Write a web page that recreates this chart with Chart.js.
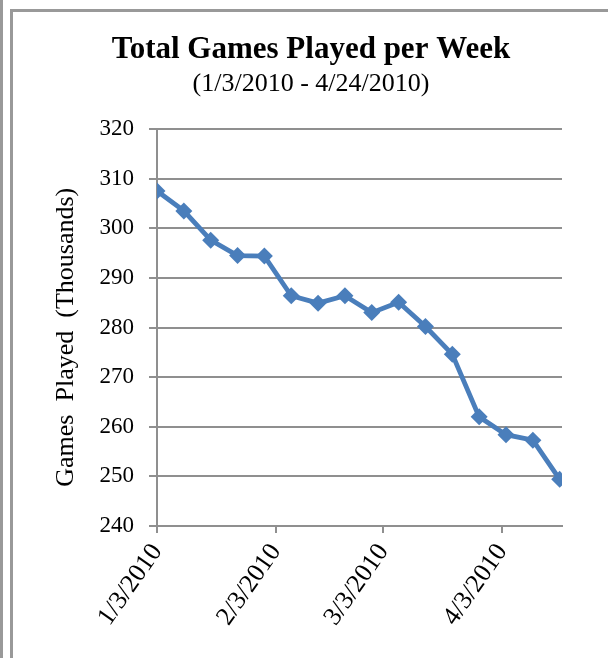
<!DOCTYPE html>
<html lang="en">
<head>
    <meta charset="UTF-8">
    <title>Total Games Played per Week</title>
    <script src="https://cdn.jsdelivr.net/npm/chart.js@4.4.1/dist/chart.umd.min.js"></script>
    <style>
        body{
            margin: 0;
            background: #fff;
            overflow: hidden;
        }
        #edge{
            position: absolute;
            left: 0; top: 0;
            width: 3px; height: 658px;
            background: #999;
        }
        #frame{
            position: absolute;
            left: 10px; top: 9px;
            width: 700px; height: 700px;
            border: 3px solid #999;
        }
        #wrap{
            position: absolute;
            left: 0; top: 0;
            width: 608px; height: 658px;
        }
    </style>
</head>
<body>
<div id="edge"></div>
<div id="frame"></div>
<div id="wrap">
    <canvas id="myChart" width="608" height="658"></canvas>
</div>
<script>
    // weekly totals, in thousands of games
    var weekStarts = ['1/3/2010', '1/10/2010', '1/17/2010', '1/24/2010', '1/31/2010', '2/7/2010',
                      '2/14/2010', '2/21/2010', '2/28/2010', '3/7/2010', '3/14/2010', '3/21/2010',
                      '3/28/2010', '4/4/2010', '4/11/2010', '4/18/2010'];
    var gamesPlayed = [307.5, 303.5, 297.6, 294.5, 294.4, 286.4, 284.9, 286.4,
                       283.0, 285.1, 280.2, 274.6, 262.0, 258.4, 257.3, 249.4];
    var axisDates = ['1/3/2010', '2/3/2010', '3/3/2010', '4/3/2010'];
    var yMin = 240, yMax = 320, yStep = 10;

    var serif = "'Liberation Serif', 'Times New Roman', serif";
    var gridGray = '#8f8f8f';
    var DAY = 86400000;

    function toUtc(s) {
        var p = s.split('/');
        return Date.UTC(+p[2], +p[0] - 1, +p[1]);
    }
    var start = toUtc(weekStarts[0]);
    function dayOf(s) {
        return Math.round((toUtc(s) - start) / DAY);
    }
    function dateLabel(d) {
        var t = new Date(start + d * DAY);
        return (t.getUTCMonth() + 1) + '/' + t.getUTCDate() + '/' + t.getUTCFullYear();
    }

    var points = weekStarts.map(function (w, i) {
        return {x: dayOf(w), y: gamesPlayed[i]};
    });
    var tickDays = axisDates.map(dayOf);

    var ctx = document.getElementById('myChart').getContext('2d');
    var myChart = new Chart(ctx, {
        type: 'line',
        data: {
            datasets: [{
                data: points,
                borderColor: '#4a7ebb',
                backgroundColor: '#4a7ebb',
                borderWidth: 4.8,
                pointStyle: 'rectRot',
                pointRadius: 8.5,
                pointBorderWidth: 0,
                tension: 0
            }]
        },
        options: {
            responsive: false,
            animation: false,
            layout: {padding: {left: 60, right: 46, top: 0, bottom: 0}},
            plugins: {
                legend: {display: false},
                tooltip: {enabled: false},
                title: {
                    display: true,
                    text: 'Total Games Played per Week',
                    color: '#000',
                    font: {family: serif, size: 31, weight: 'bold'},
                    padding: {top: 31, bottom: 0}
                },
                subtitle: {
                    display: true,
                    text: '(1/3/2010 - 4/24/2010)',
                    color: '#000',
                    font: {family: serif, size: 26},
                    padding: {top: 0, bottom: 29.6}
                }
            },
            scales: {
                x: {
                    type: 'linear',
                    min: 0,
                    max: 105.6,
                    afterBuildTicks: function (scale) {
                        scale.ticks = tickDays.map(function (v) { return {value: v}; });
                    },
                    afterFit: function (scale) { scale.height = 132; },
                    grid: {
                        drawOnChartArea: false,
                        drawTicks: true,
                        tickLength: 7,
                        color: gridGray,
                        lineWidth: 2
                    },
                    border: {display: true, color: gridGray, width: 2},
                    ticks: {
                        minRotation: 55,
                        maxRotation: 55,
                        autoSkip: false,
                        padding: 5,
                        color: '#000',
                        font: {family: serif, size: 26},
                        callback: function (v) { return dateLabel(v); }
                    }
                },
                y: {
                    min: yMin,
                    max: yMax,
                    afterFit: function (scale) { scale.width = 97; },
                    grid: {
                        color: gridGray,
                        lineWidth: 2,
                        drawTicks: true,
                        tickLength: 8
                    },
                    border: {display: true, color: gridGray, width: 2},
                    ticks: {
                        stepSize: yStep,
                        padding: 15,
                        color: '#000',
                        font: {family: serif, size: 23}
                    },
                    title: {
                        display: true,
                        text: 'Games  Played  (Thousands)   ',
                        color: '#000',
                        font: {family: serif, size: 26},
                        padding: {top: -9, bottom: 0}
                    }
                }
            }
        }
    });
</script>
</body>
</html>
